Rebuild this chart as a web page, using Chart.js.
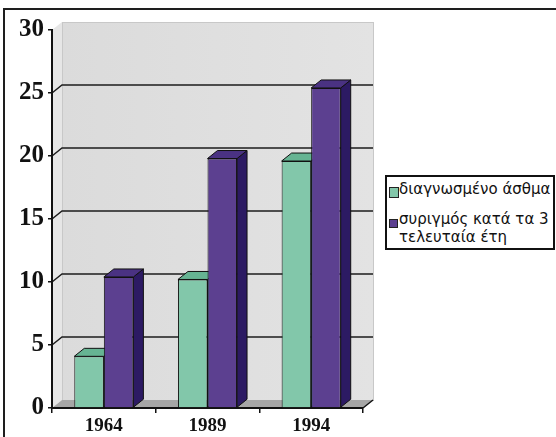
<!DOCTYPE html>
<html>
<head>
<meta charset="utf-8">
<script src="https://cdn.jsdelivr.net/npm/chart.js@4.4.0/dist/chart.umd.min.js"></script>
<style>
  html, body { margin: 0; padding: 0; background: #fff; }
  #wrap { position: relative; width: 556px; height: 437px; overflow: hidden; }
  #chart { position: absolute; left: 0; top: 0; }
  #frame {
    position: absolute; left: 3px; top: 8px; width: 570px; height: 450px;
    border: 2px solid #1e1e1e; pointer-events: none;
  }
  #legend {
    position: absolute; left: 385px; top: 175px; width: 166px; height: 71px;
    border: 2px solid #111; background: #fff;
    font-family: "DejaVu Sans", sans-serif; font-size: 15px; color: #111;
  }
  #legend .item { position: absolute; left: 12px; line-height: 18px; white-space: nowrap; }
  #legend .sw { position: absolute; border: 1px solid #222; }
</style>
</head>
<body>
<div id="wrap">
  <canvas id="chart" width="556" height="437"></canvas>
  <div id="frame"></div>
  <div id="legend"></div>
</div>
<script>
// data
const years = ["1964", "1989", "1994"];
const asthma = [4.1, 10.2, 19.6];
const wheeze = [10.4, 19.8, 25.4];
const seriesNames = ["διαγνωσμένο άσθμα", ["συριγμός κατά τα 3", "τελευταία έτη"]];
const yTicks = [0, 5, 10, 15, 20, 25, 30];

// colours
const greenFront = "#82c7aa", greenTop = "#66b493", greenSide = "#3f8a6c";
const purpleFront = "#5c4090", purpleTop = "#4a3282", purpleSide = "#2c1a63";

// depth of the fake 3d
const DX = 10, DY = -8;

function poly(ctx, pts, fill) {
  ctx.beginPath();
  ctx.moveTo(pts[0][0], pts[0][1]);
  for (let i = 1; i < pts.length; i++) ctx.lineTo(pts[i][0], pts[i][1]);
  ctx.closePath();
  ctx.fillStyle = fill;
  ctx.fill();
  ctx.lineWidth = 1;
  ctx.strokeStyle = "#111";
  ctx.stroke();
}

// back wall, floor and grid on the wall
const wallPlugin = {
  id: "wall",
  beforeDraw(chart) {
    const ctx = chart.ctx;
    const y = chart.scales.y, x = chart.scales.x;
    const L = x.left, R = x.right;
    const top = y.getPixelForValue(30), bot = y.getPixelForValue(0);
    ctx.save();
    // left wall
    ctx.beginPath();
    ctx.moveTo(L, top); ctx.lineTo(L + DX, top + DY);
    ctx.lineTo(L + DX, bot + DY); ctx.lineTo(L, bot);
    ctx.closePath();
    ctx.fillStyle = "#e6e6e6";
    ctx.fill();
    // back wall
    const g = ctx.createLinearGradient(L + DX, 0, R + DX, 0);
    g.addColorStop(0, "#dbdbdb");
    g.addColorStop(1, "#e3e3e3");
    ctx.fillStyle = g;
    ctx.fillRect(L + DX, top + DY, R - L, bot - top);
    ctx.strokeStyle = "#c8c8c8";
    ctx.lineWidth = 1;
    ctx.strokeRect(L + DX + 0.5, top + DY + 0.5, R - L, bot - top);
    // floor
    ctx.beginPath();
    ctx.moveTo(L, bot); ctx.lineTo(R, bot);
    ctx.lineTo(R + DX, bot + DY); ctx.lineTo(L + DX, bot + DY);
    ctx.closePath();
    ctx.fillStyle = "#a6a6a6";
    ctx.fill();
    ctx.beginPath();
    ctx.moveTo(R, bot); ctx.lineTo(R + DX, bot + DY);
    ctx.strokeStyle = "#111";
    ctx.lineWidth = 1.5;
    ctx.stroke();
    // grid lines on the wall
    ctx.strokeStyle = "#1c1c1c";
    ctx.lineWidth = 1.5;
    yTicks.forEach(v => {
      if (v === 0 || v === 30) return;
      const py = y.getPixelForValue(v);
      ctx.beginPath();
      ctx.moveTo(L, py);
      ctx.lineTo(L + DX, py + DY);
      ctx.lineTo(R + DX, py + DY);
      ctx.stroke();
    });
    ctx.restore();
  },
  beforeDatasetsDraw(chart) {
    const ctx = chart.ctx;
    ctx.save();
    const sides = [greenSide, purpleSide], tops = [greenTop, purpleTop];
    [0, 1].forEach(di => {
      chart.getDatasetMeta(di).data.forEach(bar => {
        const x1 = bar.x - bar.width / 2, x2 = bar.x + bar.width / 2;
        const t = bar.y, b = bar.base;
        poly(ctx, [[x2, b], [x2 + DX, b + DY], [x2 + DX, t + DY], [x2, t]], sides[di]);
        poly(ctx, [[x1, t], [x2, t], [x2 + DX, t + DY], [x1 + DX, t + DY]], tops[di]);
      });
    });
    ctx.restore();
  }
};

new Chart(document.getElementById("chart"), {
  type: "bar",
  data: {
    labels: years,
    datasets: [
      { label: seriesNames[0], data: asthma, backgroundColor: greenFront,
        borderColor: "#111", borderWidth: 1, categoryPercentage: 0.57, barPercentage: 1.0 },
      { label: seriesNames[1].join(" "), data: wheeze, backgroundColor: purpleFront,
        borderColor: "#111", borderWidth: 1, categoryPercentage: 0.57, barPercentage: 1.0 }
    ]
  },
  options: {
    responsive: false,
    animation: false,
    layout: { padding: { left: 0, top: 30, right: 193, bottom: 0 } },
    plugins: { legend: { display: false }, tooltip: { enabled: false } },
    scales: {
      x: {
        afterFit: s => { s.height = 29; },
        grid: { offset: true, drawOnChartArea: false, tickLength: 5, color: "#111", lineWidth: 1.5 },
        border: { color: "#111", width: 2 },
        ticks: {
          color: "#111", padding: 2,
          font: { family: "Liberation Serif", weight: "bold", size: 19 }
        }
      },
      y: {
        min: 0, max: 30,
        afterFit: s => { s.width = 52; },
        afterBuildTicks: s => { s.ticks = yTicks.map(v => ({ value: v })); },
        grid: { drawOnChartArea: false, tickLength: 4, color: "#111", lineWidth: 1.5 },
        border: { color: "#111", width: 2 },
        ticks: {
          color: "#111", padding: 4,
          font: { family: "Liberation Serif", weight: "bold", size: 25 }
        }
      }
    }
  },
  plugins: [wallPlugin]
});

// legend (html, two-line second entry)
const legend = document.getElementById("legend");
legend.innerHTML =
  '<span class="sw" style="left:2px;top:10px;width:8px;height:9px;background:' + greenFront + '"></span>' +
  '<div class="item" style="top:3px">' + seriesNames[0] + '</div>' +
  '<span class="sw" style="left:2px;top:42px;width:7px;height:7px;background:' + purpleFront + '"></span>' +
  '<div class="item" style="top:33px">' + seriesNames[1].join("<br>") + '</div>';
</script>
</body>
</html>
